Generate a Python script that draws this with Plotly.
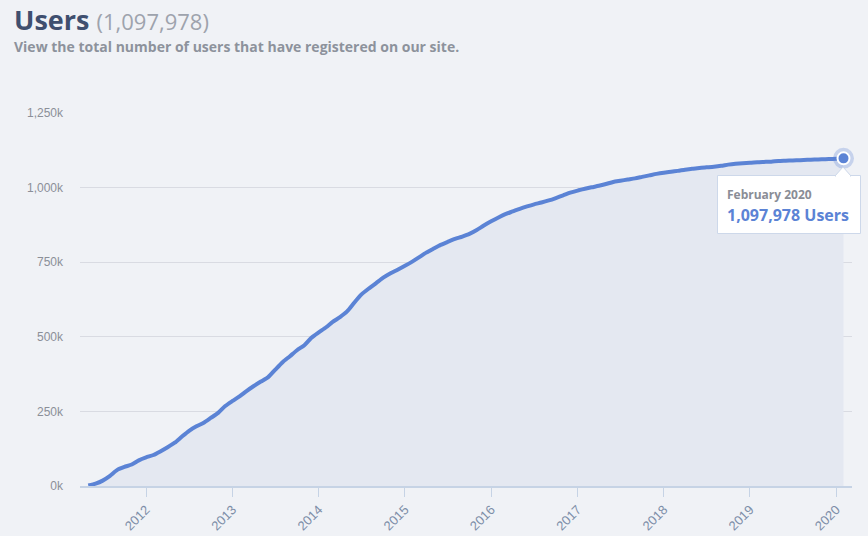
import plotly.graph_objects as go

months = [
    "2011-05", "2011-06", "2011-07", "2011-08", "2011-09", "2011-10", "2011-11", "2011-12",
    "2012-01", "2012-02", "2012-03", "2012-04", "2012-05", "2012-06", "2012-07", "2012-08", "2012-09", "2012-10", "2012-11", "2012-12",
    "2013-01", "2013-02", "2013-03", "2013-04", "2013-05", "2013-06", "2013-07", "2013-08", "2013-09", "2013-10", "2013-11", "2013-12",
    "2014-01", "2014-02", "2014-03", "2014-04", "2014-05", "2014-06", "2014-07", "2014-08", "2014-09", "2014-10", "2014-11", "2014-12",
    "2015-01", "2015-02", "2015-03", "2015-04", "2015-05", "2015-06", "2015-07", "2015-08", "2015-09", "2015-10", "2015-11", "2015-12",
    "2016-01", "2016-02", "2016-03", "2016-04", "2016-05", "2016-06", "2016-07", "2016-08", "2016-09", "2016-10", "2016-11", "2016-12",
    "2017-01", "2017-02", "2017-03", "2017-04", "2017-05", "2017-06", "2017-07", "2017-08", "2017-09", "2017-10", "2017-11", "2017-12",
    "2018-01", "2018-02", "2018-03", "2018-04", "2018-05", "2018-06", "2018-07", "2018-08", "2018-09", "2018-10", "2018-11", "2018-12",
    "2019-01", "2019-02", "2019-03", "2019-04", "2019-05", "2019-06", "2019-07", "2019-08", "2019-09", "2019-10", "2019-11", "2019-12",
    "2020-01", "2020-02",
]

users = [
    2000, 8000, 18000, 34000, 54000, 64000, 72000, 86000,
    96000, 104000, 116000, 130000, 145000, 166000, 185000, 200000, 212000, 228000, 245000, 268000,
    285000, 301000, 318000, 335000, 350000, 365000, 390000, 415000, 435000, 455000, 472000, 497000,
    515000, 532000, 550000, 566000, 585000, 615000, 642000, 662000, 680000, 698000, 713000, 725000,
    738000, 752000, 766000, 782000, 795000, 808000, 818000, 828000, 836000, 845000, 858000, 873000,
    887000, 900000, 911000, 920000, 929000, 937000, 944000, 950000, 957000, 965000, 974000, 983000,
    990000, 996000, 1001000, 1006000, 1012000, 1019000, 1023000, 1027000, 1031000, 1036000, 1041000, 1046000,
    1050000, 1053000, 1056000, 1060000, 1063000, 1066000, 1068000, 1070000, 1073000, 1077000, 1080000, 1082000,
    1083000, 1085000, 1086000, 1087000, 1089000, 1090000, 1091000, 1092000, 1093000, 1094000, 1095000, 1095500,
    1096500, 1097978,
]

y_tickvals = [0, 250000, 500000, 750000, 1000000, 1250000]
y_ticktext = ["0k", "250k", "500k", "750k", "1,000k", "1,250k"]
x_tickvals = ["2012-01-01", "2013-01-01", "2014-01-01", "2015-01-01", "2016-01-01",
              "2017-01-01", "2018-01-01", "2019-01-01", "2020-01-01"]
x_ticktext = ["2012", "2013", "2014", "2015", "2016", "2017", "2018", "2019", "2020"]

total_label = "1,097,978"
tooltip_month = "February 2020"

LINE = "#5b83d5"
BG = "#f0f2f6"

# plot-area geometry in pixels (used only to place decorations in paper coords)
L, R, T, B = 80, 16, 113, 50
PW, PH = 868 - L - R, 536 - T - B


def px(x):
    return (x - L) / PW


def py(y):
    return (536 - B - y) / PH


fig = go.Figure()
fig.add_trace(go.Scatter(
    x=months, y=users, mode="lines",
    line=dict(color=LINE, width=4, shape="spline", smoothing=0.6),
    fill="tozeroy", fillcolor="#e4e8f1",
    hoverinfo="skip", showlegend=False,
))
fig.add_trace(go.Scatter(
    x=[months[-1]], y=[users[-1]], mode="markers",
    marker=dict(size=21, color="rgba(91,131,213,0.28)", line=dict(width=0)),
    hoverinfo="skip", showlegend=False, cliponaxis=False,
))
fig.add_trace(go.Scatter(
    x=[months[-1]], y=[users[-1]], mode="markers",
    marker=dict(size=12, color=LINE, line=dict(width=2, color="white")),
    hoverinfo="skip", showlegend=False, cliponaxis=False,
))

shapes = [
    dict(type="rect", xref="paper", yref="paper", layer="above",
         x0=px(717.5), x1=px(860.5), y0=py(233.5), y1=py(175.5),
         fillcolor="white", line=dict(color="#cdd8ea", width=1)),
    dict(type="path", xref="paper", yref="paper", layer="above",
         path=f"M {px(835)} {py(176)} L {px(843)} {py(167)} L {px(851)} {py(176)} Z",
         fillcolor="white", line=dict(color="#cdd8ea", width=1)),
    dict(type="line", xref="paper", yref="paper", layer="above",
         x0=px(836), x1=px(850), y0=py(176), y1=py(176),
         line=dict(color="white", width=2)),
]

fig.update_layout(
    width=868, height=536,
    paper_bgcolor=BG, plot_bgcolor=BG,
    margin=dict(l=L, r=R, t=T, b=B),
    showlegend=False,
    shapes=shapes,
    xaxis=dict(
        type="date",
        range=["2011-03-27", "2020-03-08"],
        tickvals=x_tickvals, ticktext=x_ticktext,
        tickangle=-45, automargin=False,
        tickfont=dict(family="Liberation Sans, Arial", size=13, color="#7d8ea8"),
        showgrid=False, zeroline=False,
        showline=True, linecolor="#c6d3e5", linewidth=2,
        ticks="outside", ticklen=9, tickcolor="#c6d3e5", tickwidth=1,
    ),
    yaxis=dict(
        range=[0, 1250000], automargin=False,
        tickvals=y_tickvals, ticktext=y_ticktext,
        tickfont=dict(family="Liberation Sans, Arial", size=12, color="#8b8f98"),
        showgrid=True, gridcolor="#d9dbe2", gridwidth=1,
        zeroline=False, showline=False, ticks="",
        ticklabelstandoff=16,
    ),
    annotations=[
        dict(xref="paper", yref="paper", x=px(12), y=py(-1), xanchor="left", yanchor="top",
             text=f"<b>Users</b> <span style='font-size:22px;color:#9ea3ad'>({total_label})</span>",
             showarrow=False, font=dict(family="Open Sans", size=27, color="#3f4f6f")),
        dict(xref="paper", yref="paper", x=px(12), y=py(46), xanchor="left", yanchor="middle",
             text="<b>View the total number of users that have registered on our site.</b>",
             showarrow=False, font=dict(family="Open Sans", size=14, color="#8d929c")),
        dict(xref="paper", yref="paper", x=px(725), y=py(194), xanchor="left", yanchor="middle",
             text=f"<b>{tooltip_month}</b>", showarrow=False,
             font=dict(family="Open Sans", size=12, color="#8a8d96")),
        dict(xref="paper", yref="paper", x=px(725), y=py(215), xanchor="left", yanchor="middle",
             text=f"<b>{total_label} Users</b>", showarrow=False,
             font=dict(family="Open Sans", size=16, color=LINE)),
    ],
)

fig.write_html("out.html")
